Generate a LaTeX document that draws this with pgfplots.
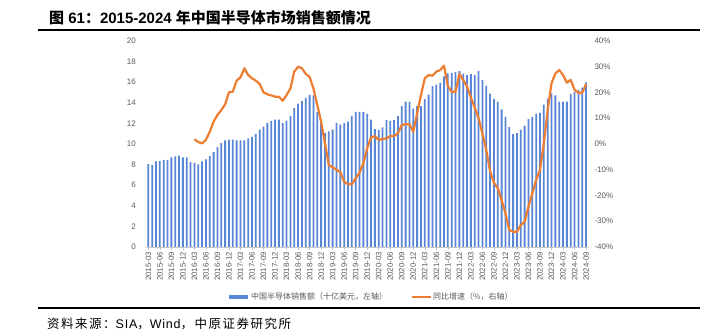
\documentclass[border=0pt]{standalone}
\usepackage{pgfplots}
\pgfplotsset{compat=1.18}
\usepackage{pgfplotstable}
\usepackage{fontspec}
\setmainfont{Liberation Sans}
\newfontfamily\cjk{Noto Sans CJK SC}
\newfontfamily\cjkwide[LetterSpace=12]{Noto Sans CJK SC}
\newfontfamily\latwide[LetterSpace=6]{Liberation Sans}
\definecolor{barblue}{RGB}{88,133,214}
\definecolor{lineorange}{RGB}{237,125,49}
\definecolor{labelgray}{RGB}{89,89,89}
\definecolor{axisgray}{RGB}{200,200,200}

\pgfplotstableread{
idx sales yoy
0 8.03 nan
1 7.97 nan
2 8.29 nan
3 8.36 nan
4 8.42 nan
5 8.45 nan
6 8.68 nan
7 8.78 nan
8 8.87 nan
9 8.68 nan
10 8.68 nan
11 8.23 nan
12 8.16 1.75
13 8.00 0.7
14 8.29 0.2
15 8.49 1.5
16 8.81 4.7
17 9.20 8.6
18 9.71 11.2
19 10.07 13.1
20 10.33 15.3
21 10.42 20.0
22 10.42 20.2
23 10.33 24.5
24 10.33 25.8
25 10.33 29.3
26 10.52 26.7
27 10.68 25.4
28 10.97 24.5
29 11.39 23.2
30 11.68 20.0
31 12.03 19.2
32 12.23 18.8
33 12.36 18.3
34 12.36 18.3
35 12.00 16.7
36 12.26 18.9
37 12.71 21.5
38 13.46 28.0
39 13.90 29.9
40 14.13 29.3
41 14.46 27.1
42 14.75 26.0
43 14.71 21.5
44 13.07 15.1
45 12.03 8.6
46 11.03 0.2
47 11.20 -8.2
48 11.39 -9.1
49 12.03 -10.1
50 11.87 -11.0
51 12.00 -14.7
52 12.16 -15.7
53 12.71 -15.7
54 13.10 -13.4
55 13.10 -11.2
56 13.10 -7.5
57 12.90 -1.7
58 12.36 2.5
59 11.42 3.0
60 11.33 1.5
61 11.60 1.9
62 12.30 2.1
63 12.23 3.0
64 12.30 3.0
65 12.68 4.1
66 13.65 7.3
67 14.10 7.6
68 14.10 7.6
69 13.42 4.7
70 13.65 11.8
71 13.65 18.9
72 14.33 25.4
73 14.78 26.7
74 15.59 26.4
75 15.75 28.0
76 15.91 28.6
77 16.55 30.3
78 16.84 22.4
79 16.88 20.2
80 16.97 20.2
81 17.04 27.1
82 16.81 24.8
83 16.65 22.2
84 16.75 18.0
85 16.68 14.0
86 17.07 9.9
87 16.17 4.1
88 15.62 -2.4
89 14.88 -10.5
90 14.36 -15.1
91 14.10 -17.2
92 13.33 -21.8
93 12.62 -26.9
94 11.62 -33.4
95 10.94 -34.1
96 11.04 -34.1
97 11.39 -31.5
98 11.75 -30.2
99 12.39 -24.3
100 12.62 -19.2
101 12.94 -14.0
102 13.00 -10.1
103 13.81 0.2
104 14.39 13.1
105 14.90 23.5
106 14.71 27.3
107 14.10 28.6
108 14.10 26.7
109 14.10 23.7
110 14.84 24.8
111 15.04 20.9
112 15.23 19.8
113 15.46 19.8
114 15.97 23.2
}\data

\begin{document}
\begin{tikzpicture}
\path[use as bounding box] (0pt,0pt) rectangle (728pt,336pt);

% title and rules
\node[anchor=west, inner sep=0pt] at (49pt,318pt)
  {\bfseries\fontsize{15}{17}\selectfont {\cjk 图} 61{\cjk ：}2015-2024 {\cjk 年中国半导体市场销售额情况}};
\draw[black, line width=2pt] (38pt,306pt) -- (700pt,306pt);
\draw[black, line width=2pt] (38pt,28pt) -- (700pt,28pt);
\node[anchor=west, inner sep=0pt] at (47pt,12pt)
  {\fontsize{12.5}{14}\selectfont {\cjkwide 资料来源：}{\latwide SIA}{\cjkwide ，}{\latwide Wind}{\cjkwide ，中原证券研究所}};

\begin{axis}[
  at={(146.4pt,89pt)}, anchor=south west,
  scale only axis, width=441.6pt, height=206.3pt,
  xmin=-0.5, xmax=114.5, ymin=0, ymax=20,
  axis x line*=bottom, axis y line*=left,
  x axis line style={draw=axisgray, line width=0.6pt, -},
  y axis line style={draw=none},
  xtick={0,3,...,114},
  xticklabels={2015-03,2015-06,2015-09,2015-12,2016-03,2016-06,2016-09,2016-12,2017-03,2017-06,2017-09,2017-12,2018-03,2018-06,2018-09,2018-12,2019-03,2019-06,2019-09,2019-12,2020-03,2020-06,2020-09,2020-12,2021-03,2021-06,2021-09,2021-12,2022-03,2022-06,2022-09,2022-12,2023-03,2023-06,2023-09,2023-12,2024-03,2024-06,2024-09},
  xtick style={draw=axisgray, line width=0.6pt},
  major tick length=3pt, tick align=outside,
  ytick={0,2,...,20}, ytick style={draw=none},
  xticklabel style={rotate=90, anchor=east, font=\fontsize{7.8}{8}\selectfont, text=labelgray, inner sep=2pt},
  yticklabel style={font=\fontsize{8}{9}\selectfont, text=labelgray, xshift=-4pt},
  /pgf/number format/assume math mode=true,
  ybar, bar width=1.8pt,
]
\addplot[fill=barblue, draw=none] table[x=idx, y=sales]{\data};
\end{axis}

\begin{axis}[
  at={(146.4pt,89pt)}, anchor=south west,
  scale only axis, width=441.6pt, height=206.3pt,
  xmin=-0.5, xmax=114.5, ymin=-40, ymax=40,
  axis x line=none, axis y line*=right,
  y axis line style={draw=none},
  ytick={-40,-30,...,40}, ytick style={draw=none},
  yticklabels={-40\%,-30\%,-20\%,-10\%,0\%,10\%,20\%,30\%,40\%},
  yticklabel style={font=\fontsize{8}{9}\selectfont, text=labelgray, anchor=west, xshift=3pt},
]
\addplot[color=lineorange, line width=2.2pt, line join=round, mark=none] table[x=idx, y=yoy]{\data};
\end{axis}

% legend
\fill[barblue] (229pt,37pt) rectangle (248pt,41pt);
\node[anchor=west, inner sep=0pt, text=labelgray] at (251pt,39pt) {\cjk\fontsize{8}{9}\selectfont 中国半导体销售额（十亿美元，左轴）};
\draw[lineorange, line width=2pt] (412pt,39pt) -- (431pt,39pt);
\node[anchor=west, inner sep=0pt, text=labelgray] at (433pt,39pt) {\cjk\fontsize{8}{9}\selectfont 同比增速（\%，右轴）};
\end{tikzpicture}
\end{document}
